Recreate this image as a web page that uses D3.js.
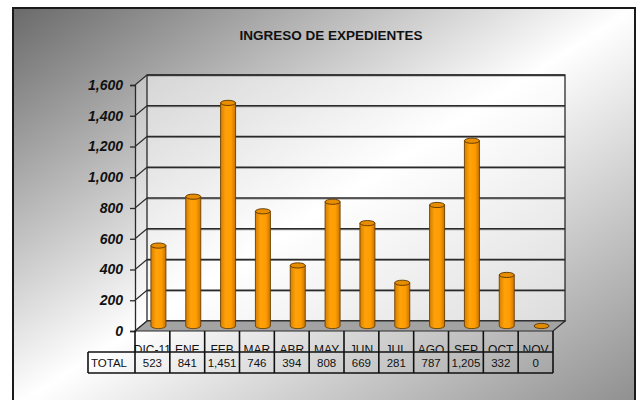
<!DOCTYPE html>
<html>
<head>
<meta charset="utf-8">
<script src="https://cdn.jsdelivr.net/npm/d3@7/dist/d3.min.js"></script>
<style>
  html, body { margin: 0; padding: 0; background: #fff; }
  svg { display: block; }
</style>
</head>
<body>
<svg id="chart" width="641" height="400"></svg>
<script>
const categories = ["DIC-11","ENE","FEB","MAR","ABR","MAY","JUN","JUL","AGO","SEP","OCT","NOV"];
const values = [523, 841, 1451, 746, 394, 808, 669, 281, 787, 1205, 332, 0];
const yTicks = [0, 200, 400, 600, 800, 1000, 1200, 1400, 1600];
const title = "INGRESO DE EXPEDIENTES";
const rowLabel = "TOTAL";

const svg = d3.select("#chart");
const defs = svg.append("defs");
const font = "'Liberation Sans', Arial, sans-serif";

// background gradient
const bg = defs.append("linearGradient").attr("id","bg")
  .attr("x1","0").attr("y1","0").attr("x2","1").attr("y2","1");
bg.append("stop").attr("offset","0").attr("stop-color","#6a6a6a");
bg.append("stop").attr("offset","0.5").attr("stop-color","#ffffff");
bg.append("stop").attr("offset","1").attr("stop-color","#8e8e8e");

const cyl = defs.append("linearGradient").attr("id","cyl")
  .attr("x1","0").attr("y1","0").attr("x2","1").attr("y2","0");
cyl.append("stop").attr("offset","0").attr("stop-color","#d67f00");
cyl.append("stop").attr("offset","0.35").attr("stop-color","#ffa20a");
cyl.append("stop").attr("offset","0.7").attr("stop-color","#ff9c00");
cyl.append("stop").attr("offset","1").attr("stop-color","#c87400");

defs.append("clipPath").attr("id","catclip").append("rect")
  .attr("x",0).attr("y",331).attr("width",641).attr("height",20.5);

svg.append("rect").attr("x",13).attr("y",8).attr("width",622).attr("height",400)
  .attr("fill","url(#bg)").attr("stroke","#1a1a1a").attr("stroke-width",2);

svg.append("text").attr("x",331).attr("y",40).attr("text-anchor","middle")
  .attr("font-family",font).attr("font-weight","bold").attr("font-size",13.5)
  .attr("fill","#111").text(title);

// scales
const x = d3.scaleBand().domain(categories).range([135, 553]).padding(0);
const y = d3.scaleLinear().domain([0, 1600]).range([331, 85]);
const DX = 12, DY = -10;   // depth offset (back wall)
const BX = 6, BY = -5;     // bar depth offset

const x0 = x.range()[0], x1 = x.range()[1];
const yTop = y(1600), yBot = y(0);

// side wall
svg.append("path")
  .attr("d", `M${x0},${yBot} L${x0+DX},${yBot+DY} L${x0+DX},${yTop+DY} L${x0},${yTop} Z`)
  .attr("fill","#ffffff").attr("fill-opacity",0.35).attr("stroke","none");
// back wall
svg.append("rect").attr("x",x0+DX).attr("y",yTop+DY)
  .attr("width",x1-x0).attr("height",yBot-yTop)
  .attr("fill","#ffffff").attr("fill-opacity",0.55);

// gridlines
const grid = svg.append("g");
yTicks.forEach(t => {
  const yy = y(t);
  grid.append("line").attr("x1",x0+DX).attr("x2",x1+DX).attr("y1",yy+DY+1).attr("y2",yy+DY+1)
    .attr("stroke","#999").attr("stroke-width",1);
  grid.append("line").attr("x1",x0+DX).attr("x2",x1+DX).attr("y1",yy+DY).attr("y2",yy+DY)
    .attr("stroke","#2a2a2a").attr("stroke-width",1.3);
  grid.append("line").attr("x1",x0).attr("x2",x0+DX).attr("y1",yy).attr("y2",yy+DY)
    .attr("stroke","#2a2a2a").attr("stroke-width",1.1);
});
svg.append("rect").attr("x",x0+DX).attr("y",yTop+DY)
  .attr("width",x1-x0).attr("height",yBot-yTop)
  .attr("fill","none").attr("stroke","#2a2a2a").attr("stroke-width",1.3);

// floor
svg.append("path")
  .attr("d", `M${x0},${yBot} L${x1},${yBot} L${x1+DX},${yBot+DY} L${x0+DX},${yBot+DY} Z`)
  .attr("fill","#a3a3a3").attr("stroke","#2a2a2a").attr("stroke-width",1.2);

// y axis
const yAxis = d3.axisLeft(y).tickValues(yTicks).tickSize(5).tickPadding(7)
  .tickFormat(d3.format(","));
const ag = svg.append("g").attr("transform",`translate(${x0},0)`).call(yAxis);
ag.select(".domain").attr("stroke","#2a2a2a").attr("stroke-width",1.3);
ag.selectAll(".tick line").attr("stroke","#2a2a2a").attr("stroke-width",1.3);
ag.selectAll(".tick text").attr("font-family",font).attr("font-size",14)
  .attr("font-weight","bold").attr("font-style","italic").attr("fill","#111");

// bars (cylinders)
const rx = 7.5, ry = 2.6;
const bars = svg.append("g");
categories.forEach((c, i) => {
  const cx = x(c) + x.bandwidth()/2 + BX;
  const yb = y(0) + BY;
  const yt = y(values[i]) + BY;
  const g = bars.append("g");
  if (values[i] > 0) {
    g.append("path")
      .attr("d", `M${cx-rx},${yt} L${cx-rx},${yb} A${rx},${ry} 0 0 0 ${cx+rx},${yb} L${cx+rx},${yt} Z`)
      .attr("fill","url(#cyl)").attr("stroke","#6b4000").attr("stroke-width",0.9);
  }
  g.append("ellipse").attr("cx",cx).attr("cy",yt).attr("rx",rx).attr("ry",ry)
    .attr("fill", values[i] > 0 ? "#e88c00" : "#e08a00")
    .attr("stroke","#5a3600").attr("stroke-width",0.9);
});

// data table
const tbl = svg.append("g");
const r0 = 331, r1 = 352, r2 = 373, tl = 88;
tbl.append("g").attr("clip-path","url(#catclip)")
  .selectAll("text").data(categories).join("text")
  .attr("x", d => x(d) + x.bandwidth()/2).attr("y", 353.5)
  .attr("text-anchor","middle").attr("font-family",font).attr("font-size",12)
  .attr("fill","#111").text(d => d);
tbl.selectAll("text.v").data(values).join("text").attr("class","v")
  .attr("x", (d,i) => x(categories[i]) + x.bandwidth()/2).attr("y", 367)
  .attr("text-anchor","middle").attr("font-family",font).attr("font-size",11.5)
  .attr("fill","#111").text(d => d3.format(",")(d));
tbl.append("text").attr("x",tl+3).attr("y",367).attr("font-family",font).attr("font-size",11.5)
  .attr("fill","#111").text(rowLabel);

const ls = {stroke:"#111", w:1.6};
const hl = (xa, xb, yy) => tbl.append("line").attr("x1",xa).attr("x2",xb).attr("y1",yy).attr("y2",yy)
  .attr("stroke",ls.stroke).attr("stroke-width",ls.w);
const vl = (xx, ya, yb) => tbl.append("line").attr("x1",xx).attr("x2",xx).attr("y1",ya).attr("y2",yb)
  .attr("stroke",ls.stroke).attr("stroke-width",ls.w);
hl(tl, x1, r1);
hl(tl, x1, r2);
vl(tl, r1, r2);
categories.forEach(c => vl(x(c), r0, r2));
vl(x1, r0, r2);
</script>
</body>
</html>
